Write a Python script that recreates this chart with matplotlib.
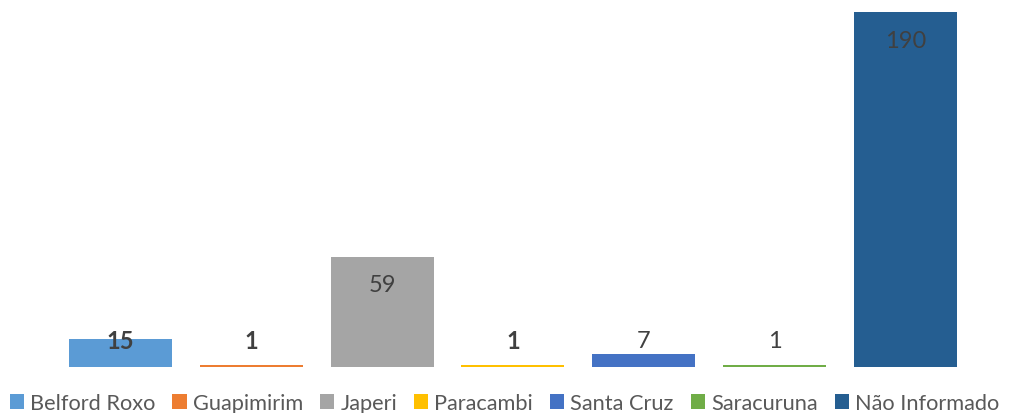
import matplotlib.pyplot as plt
from matplotlib.patches import Patch

# municipalities and counts
places = ["Belford Roxo", "Guapimirim", "Japeri", "Paracambi",
          "Santa Cruz", "Saracuruna", "Não Informado"]
counts = [15, 1, 59, 1, 7, 1, 190]
bold_label = [True, True, False, True, False, False, False]
colors = ["#5B9BD5", "#ED7D31", "#A5A5A5", "#FFC000",
          "#4472C4", "#70AD47", "#255E91"]

plt.rcParams["font.family"] = ["Lato", "DejaVu Sans"]

fig = plt.figure(figsize=(10.09, 4.14), dpi=100)
ax = fig.add_axes([0.0546, 0.111, 0.9076, 0.8576])

x = range(len(places))
ax.bar(x, counts, width=0.787, color=colors)
ax.set_xlim(-0.5, len(places) - 0.5)
ax.set_ylim(0, 190)
ax.axis("off")

for i, v in enumerate(counts):
    ypos = max(v - 15, 14)
    ax.text(i, ypos, str(v), ha="center", va="center", fontsize=17,
            color="#404040", fontweight="bold" if bold_label[i] else "normal")

handles = [Patch(facecolor=c, edgecolor="none") for c in colors]
fig.legend(handles, places, loc="center", bbox_to_anchor=(0.5, 0.024),
           ncol=len(places), frameon=False, fontsize=15.7,
           handlelength=0.65, handleheight=0.65, handletextpad=0.28,
           columnspacing=0.78, labelcolor="#595959")

fig.savefig("out.png", dpi=100)
